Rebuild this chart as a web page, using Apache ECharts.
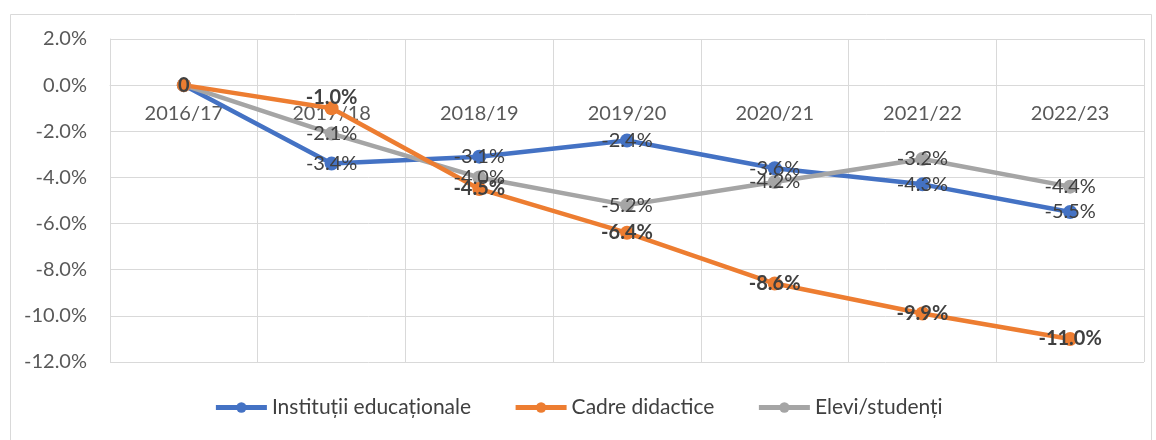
<!DOCTYPE html>
<html>
<head>
<meta charset="utf-8">
<script src="https://cdn.jsdelivr.net/npm/echarts@6/dist/echarts.min.js"></script>
<style>
  html, body { margin: 0; padding: 0; background: #fff; }
  #chart { width: 1156px; height: 440px; }
</style>
</head>
<body>
<div id="chart"></div>
<script>
// data
var years = ['2016/17', '2017/18', '2018/19', '2019/20', '2020/21', '2021/22', '2022/23'];
var institutii = [0, -3.4, -3.1, -2.4, -3.6, -4.3, -5.5];
var cadre = [0, -1.0, -4.5, -6.4, -8.6, -9.9, -11.0];
var elevi = [0, -2.1, -4.0, -5.2, -4.2, -3.2, -4.4];
var yTicks = { min: -12, max: 2, step: 2 };

var FONT = 'Lato, "Open Sans", sans-serif';
var GRID = { left: 110, right: 12, top: 39, bottom: 78 };
var gridH = 440 - GRID.top - GRID.bottom;
// category axis sits on the zero line, as in Excel
var zeroOffset = -(yTicks.max / (yTicks.max - yTicks.min)) * gridH;

function pct(p) {
    return p.value === 0 ? '0' : p.value.toFixed(1) + '%';
}

function makeSeries(name, data, color, bold) {
    return {
        name: name,
        type: 'line',
        data: data,
        symbol: 'circle',
        symbolSize: 14,
        lineStyle: { width: 4.5, color: color },
        itemStyle: { color: color },
        label: {
            show: true,
            position: 'inside',
            formatter: pct,
            color: '#404040',
            fontFamily: FONT,
            fontSize: 20,
            fontWeight: bold ? 'bold' : 'normal'
        },
        animation: false
    };
}

var chart = echarts.init(document.getElementById('chart'));

var series = [
    makeSeries('Instituții educaționale', institutii, '#4472C4', false),
    makeSeries('Elevi/studenți', elevi, '#A5A5A5', false),
    makeSeries('Cadre didactice', cadre, '#ED7D31', true)
];
// orange -1.0% label sits a bit above its point
series[2].data = cadre.map(function (v, i) {
    if (i === 1) return { value: v, label: { offset: [0, -11] } };
    return v;
});
// only one "0" label shows at the start
series[0].data = institutii.map(function (v, i) {
    return i === 0 ? { value: v, label: { show: false } } : v;
});
series[1].data = elevi.map(function (v, i) {
    return i === 0 ? { value: v, label: { show: false } } : v;
});

var option = {
    backgroundColor: '#fff',
    graphic: [{
        type: 'rect',
        left: 8, top: 12,
        shape: { width: 1141, height: 440 },
        style: { fill: 'none', stroke: '#d9d9d9', lineWidth: 1 },
        silent: true
    }],
    grid: GRID,
    legend: {
        bottom: 17,
        left: 'center',
        data: ['Instituții educaționale', 'Cadre didactice', 'Elevi/studenți'],
        itemWidth: 51,
        itemHeight: 13,
        itemGap: 42,
        lineStyle: { width: 5 },
        textStyle: { color: '#404040', fontFamily: FONT, fontSize: 21 }
    },
    xAxis: {
        type: 'category',
        data: years,
        boundaryGap: true,
        position: 'top',
        offset: zeroOffset,
        axisLine: { onZero: false, lineStyle: { color: '#d9d9d9', width: 1 } },
        axisTick: { show: false },
        axisLabel: { inside: true, color: '#595959', fontFamily: FONT, fontSize: 20, margin: 18 },
        splitLine: { show: true, lineStyle: { color: '#d9d9d9', width: 1 } }
    },
    yAxis: {
        type: 'value',
        min: yTicks.min,
        max: yTicks.max,
        interval: yTicks.step,
        axisLine: { show: true, lineStyle: { color: '#d9d9d9', width: 1 } },
        axisTick: { show: false },
        axisLabel: {
            color: '#595959', fontFamily: FONT, fontSize: 20, margin: 23,
            formatter: function (v) { return v.toFixed(1) + '%'; }
        },
        splitLine: { lineStyle: { color: '#d9d9d9', width: 1 } }
    },
    series: series
};

chart.setOption(option);
</script>
</body>
</html>
